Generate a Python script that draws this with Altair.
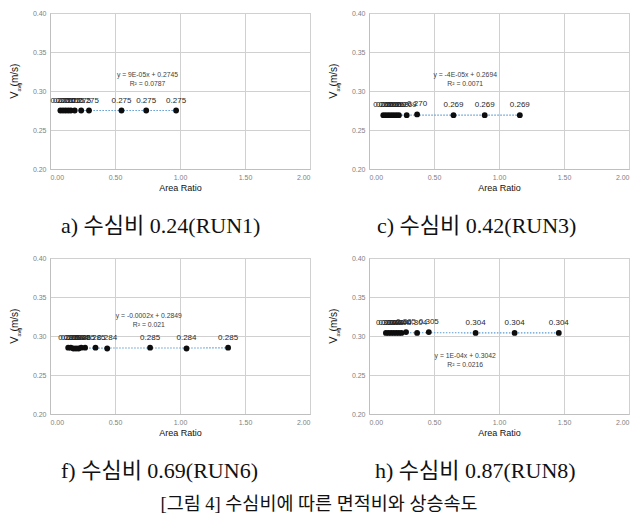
import altair as alt
import pandas as pd

# ---- data ----
x_run1 = [0.08, 0.10, 0.12, 0.14, 0.16, 0.19, 0.24, 0.30, 0.55, 0.74, 0.97]
y_run1 = [0.275, 0.275, 0.275, 0.275, 0.275, 0.275, 0.275, 0.275, 0.275, 0.275, 0.275]

x_run3 = [0.11, 0.13, 0.15, 0.17, 0.19, 0.21, 0.23, 0.29, 0.37, 0.65, 0.89, 1.16]
y_run3 = [0.269, 0.269, 0.269, 0.269, 0.269, 0.269, 0.269, 0.269, 0.270, 0.269, 0.269, 0.269]

x_run6 = [0.14, 0.16, 0.18, 0.20, 0.22, 0.24, 0.27, 0.35, 0.44, 0.77, 1.05, 1.37]
y_run6 = [0.285, 0.285, 0.284, 0.284, 0.284, 0.285, 0.285, 0.285, 0.284, 0.285, 0.284, 0.285]

x_run8 = [0.13, 0.15, 0.17, 0.19, 0.21, 0.23, 0.25, 0.285, 0.37, 0.46, 0.82, 1.12, 1.46]
y_run8 = [0.304, 0.304, 0.304, 0.304, 0.304, 0.304, 0.304, 0.305, 0.304, 0.305, 0.304, 0.304, 0.304]

eq_run1 = ["y = 9E-05x + 0.2745", "R² = 0.0787"]
eq_run3 = ["y = -4E-05x + 0.2694", "R² = 0.0071"]
eq_run6 = ["y = -0.0002x + 0.2849", "R² = 0.021"]
eq_run8 = ["y = 1E-04x + 0.3042", "R² = 0.0216"]

captions = ["a)  수심비  0.24(RUN1)", "c)  수심비  0.42(RUN3)",
            "f)  수심비  0.69(RUN6)", "h)  수심비  0.87(RUN8)"]
figure_caption = "[그림 4] 수심비에 따른 면적비와 상승속도"

x_ticks = [0.0, 0.5, 1.0, 1.5, 2.0]
y_ticks = [0.20, 0.25, 0.30, 0.35, 0.40]

SERIF = "Liberation Serif, Noto Sans CJK KR"
SANS = "Liberation Sans, Noto Sans CJK KR"

W, H = 260, 156

XSC = alt.Scale(domain=[0, 2])
YSC = alt.Scale(domain=[0.2, 0.4])
XAX = alt.Axis(values=x_ticks, format=".2f", title="Area Ratio", labelOverlap=False, tickCount=5)
YAX = alt.Axis(values=y_ticks, format=".2f", title=None, labelOverlap=False, tickCount=5)


def panel(xs, ys, eq, eq_x, eq_y, caption, dx):
    df = pd.DataFrame({"x": xs, "y": ys})
    df["label"] = [f"{v:.3f}" for v in ys]
    base = alt.Chart(df)
    xenc = alt.X("x:Q", scale=XSC, axis=XAX)
    yenc = alt.Y("y:Q", scale=YSC, axis=YAX)
    trend = base.transform_regression("x", "y").mark_line(
        color="#5b9bd5", strokeDash=[1.5, 1.5], strokeWidth=1.2
    ).encode(x=xenc, y=yenc)
    pts = base.mark_circle(size=34, color="#0d0d0d", opacity=1).encode(x=xenc, y=yenc)
    labels = base.mark_text(dy=-10, fontSize=8, font=SANS, color="#262626").encode(
        x=xenc, y=yenc, text="label:N")
    one = alt.Chart(pd.DataFrame({"a": [0]}))
    eqtext = one.mark_text(
        fontSize=6.8, font=SANS, color="#404040", lineHeight=9
    ).encode(x=alt.XDatum(eq_x, scale=XSC, axis=XAX),
             y=alt.YDatum(eq_y, scale=YSC, axis=YAX),
             text=alt.value(eq))
    # y-axis title "V_avg (m/s)" with subscript
    t_v = one.mark_text(angle=270, fontSize=11, font=SANS, color="#111111",
                        align="center", baseline="middle").encode(
        x=alt.value(-35), y=alt.value(82), text=alt.value("V"))
    t_sub = one.mark_text(angle=270, fontSize=5.5, font=SANS, color="#111111",
                          align="center", baseline="middle").encode(
        x=alt.value(-31), y=alt.value(74), text=alt.value("avg"))
    t_unit = one.mark_text(angle=270, fontSize=10, font=SANS, color="#111111",
                           align="center", baseline="middle").encode(
        x=alt.value(-35), y=alt.value(62), text=alt.value("(m/s)"))
    return alt.layer(trend, pts, labels, eqtext, t_v, t_sub, t_unit).properties(
        width=W, height=H,
        title=alt.TitleParams(caption, orient="bottom", anchor="start", frame="group",
                              font=SERIF, fontSize=22, fontWeight="normal",
                              color="#111111", offset=24, dx=dx),
    )


p1 = panel(x_run1, y_run1, eq_run1, 0.75, 0.320, captions[0], 11)
p2 = panel(x_run3, y_run3, eq_run3, 0.74, 0.320, captions[1], 8)
p3 = panel(x_run6, y_run6, eq_run6, 0.76, 0.326, captions[2], 11)
p4 = panel(x_run8, y_run8, eq_run8, 0.74, 0.274, captions[3], 6)

chart = alt.vconcat(
    alt.hconcat(p1, p2, spacing=16),
    alt.hconcat(p3, p4, spacing=16),
    spacing=15,
).properties(
    padding={"left": 0, "top": 0, "right": 0, "bottom": 0},
    title=alt.TitleParams(figure_caption, orient="bottom", anchor="middle",
                          font=SERIF, fontSize=18.5, fontWeight="normal",
                          color="#111111", offset=12),
).configure_view(
    stroke="#bfbfbf", strokeWidth=1
).configure_axis(
    gridColor="#d0d0d0", domainColor="#bfbfbf", ticks=False,
    labelFont=SANS, labelFontSize=7, labelColor="#7f7f7f", labelPadding=4,
    titleFont=SANS, titleFontSize=9, titleFontWeight="normal", titleColor="#111111",
).configure_axisX(titlePadding=3)

chart.save("out.html", embed_options={"renderer": "svg", "actions": False})
